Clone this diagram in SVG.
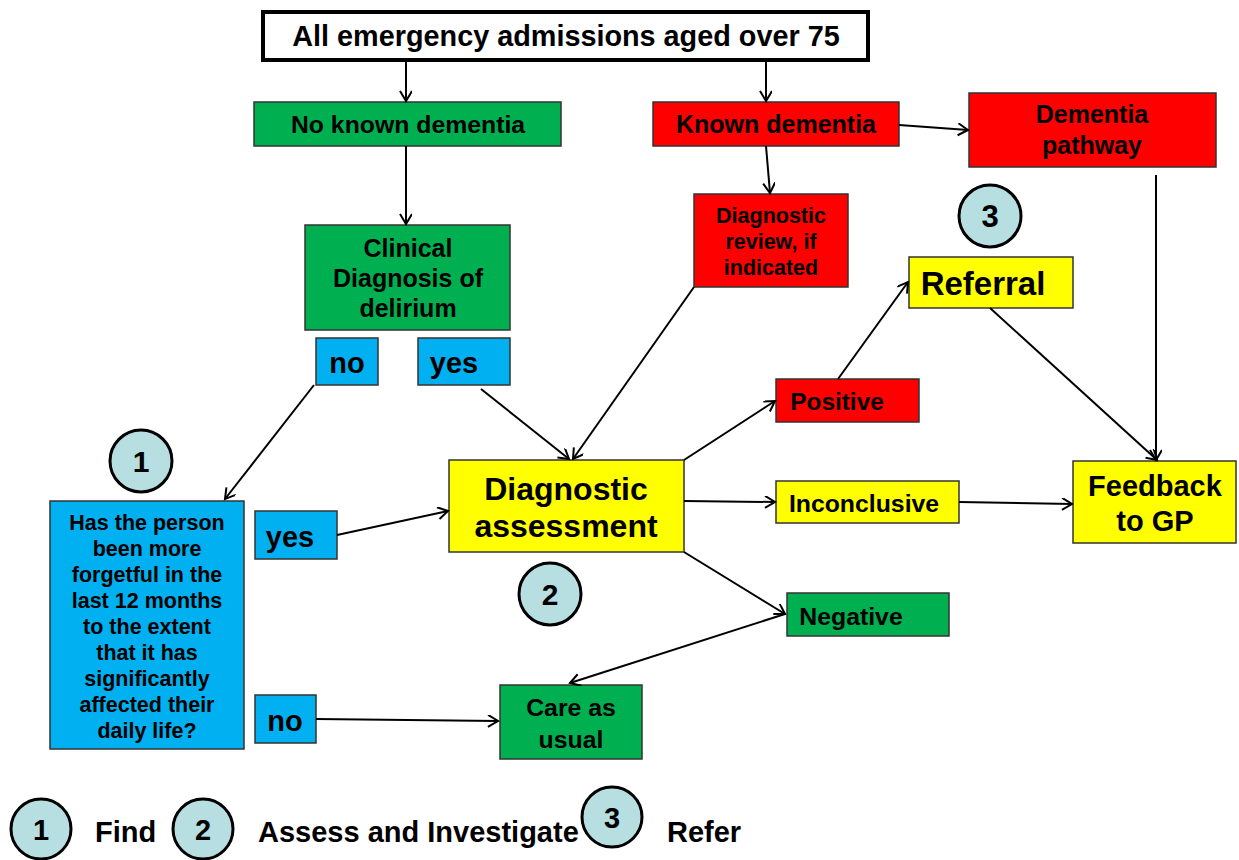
<svg xmlns="http://www.w3.org/2000/svg" width="1239" height="860" viewBox="0 0 1239 860">
<style>
text{font-family:"Liberation Sans",Arial,sans-serif;font-weight:bold;fill:#000;text-anchor:middle}
text.l{text-anchor:start}
.box{stroke:#333;stroke-width:1.5}
.g{fill:#00B050}.r{fill:#FF0000}.y{fill:#FFFF00}.b{fill:#00B0F0}
.c{fill:#B7DEE0;stroke:#000;stroke-width:3}
.conn line{stroke:#000;stroke-width:2;marker-end:url(#ah)}
</style>
<defs>
<marker id="ah" markerWidth="14" markerHeight="14" refX="11" refY="6" orient="auto" markerUnits="userSpaceOnUse">
<path d="M1,0 L11,6 L1,12" fill="none" stroke="#000" stroke-width="2"/>
</marker>
</defs>
<g id="top"><rect x="263" y="12" width="605" height="48" fill="#fff" stroke="#000" stroke-width="4"/><text x="566" y="46" font-size="28.8">All emergency admissions aged over 75</text></g>
<g id="noknown"><rect class="box g" x="254" y="102" width="307" height="44"/><text x="408" y="133" font-size="24.8">No known dementia</text></g>
<g id="known"><rect class="box r" x="653" y="102" width="246" height="44"/><text x="776" y="133" font-size="25">Known dementia</text></g>
<g id="pathway"><rect class="box r" x="969" y="93" width="247" height="74"/><text x="1092" y="123" font-size="25">Dementia</text><text x="1092" y="154" font-size="25">pathway</text></g>
<g id="review"><rect class="box r" x="694" y="194" width="154" height="93"/><text x="771" y="223" font-size="21.5">Diagnostic</text><text x="771" y="249" font-size="21.5">review, if</text><text x="771" y="275" font-size="21.5">indicated</text></g>
<g id="clinical"><rect class="box g" x="305" y="225" width="205" height="105"/><text x="408" y="257" font-size="25">Clinical</text><text x="408" y="287" font-size="25">Diagnosis of</text><text x="408" y="317" font-size="25">delirium</text></g>
<g id="no1"><rect class="box b" x="316" y="338" width="62" height="47"/><text x="347" y="373" font-size="29">no</text></g>
<g id="yes1"><rect class="box b" x="418" y="338" width="92" height="47"/><text x="454" y="373" font-size="29">yes</text></g>
<g id="step1"><circle class="c" cx="141" cy="461" r="31"/><text x="141" y="472" font-size="30">1</text></g>
<g id="question"><rect class="box b" x="50" y="501" width="194" height="248"/>
<text font-size="21.5"><tspan x="147" y="530">Has the person</tspan><tspan x="147" y="556">been more</tspan><tspan x="147" y="582">forgetful in the</tspan><tspan x="147" y="608">last 12 months</tspan><tspan x="147" y="634">to the extent</tspan><tspan x="147" y="660">that it has</tspan><tspan x="147" y="686">significantly</tspan><tspan x="147" y="712">affected their</tspan><tspan x="147" y="738">daily life?</tspan></text></g>
<g id="yes2"><rect class="box b" x="255" y="511" width="82" height="48"/><text x="290" y="547" font-size="29">yes</text></g>
<g id="no2"><rect class="box b" x="255" y="695" width="61" height="48"/><text x="285" y="731" font-size="29">no</text></g>
<g id="assess"><rect class="box y" x="449" y="460" width="235" height="92"/><text x="566" y="500" font-size="32">Diagnostic</text><text x="566" y="537" font-size="32">assessment</text></g>
<g id="step2"><circle class="c" cx="550" cy="594" r="31"/><text x="550" y="605" font-size="30">2</text></g>
<g id="positive"><rect class="box r" x="776" y="379" width="143" height="43"/><text x="837" y="410" font-size="24.4">Positive</text></g>
<g id="referral"><rect class="box y" x="909" y="257" width="164" height="51"/><text x="983" y="295" font-size="33">Referral</text></g>
<g id="step3"><circle class="c" cx="990" cy="216" r="31"/><text x="990" y="227" font-size="31" font-weight="normal">3</text></g>
<g id="feedback"><rect class="box y" x="1073" y="461" width="163" height="82"/><text x="1155" y="496" font-size="29">Feedback</text><text x="1155" y="531" font-size="29">to GP</text></g>
<g id="inconclusive"><rect class="box y" x="776" y="481" width="183" height="42"/><text x="864" y="512" font-size="24.8">Inconclusive</text></g>
<g id="negative"><rect class="box g" x="787" y="593" width="162" height="43"/><text x="851" y="625" font-size="24.8">Negative</text></g>
<g id="care"><rect class="box g" x="500" y="685" width="142" height="74"/><text x="571" y="716" font-size="24.8">Care as</text><text x="571" y="748" font-size="24.8">usual</text></g>
<g class="conn" id="connectors">
<line x1="406" y1="62" x2="406" y2="101"/>
<line x1="766" y1="62" x2="766" y2="101"/>
<line x1="899" y1="125" x2="968" y2="130"/>
<line x1="766" y1="146" x2="770" y2="193"/>
<line x1="406" y1="146" x2="406" y2="224"/>
<line x1="314" y1="385" x2="225" y2="499"/>
<line x1="481" y1="389" x2="569" y2="459"/>
<line x1="694" y1="287" x2="573" y2="459"/>
<line x1="337" y1="535" x2="448" y2="511"/>
<line x1="316" y1="719" x2="498" y2="721"/>
<line x1="684" y1="460" x2="775" y2="401"/>
<line x1="838" y1="379" x2="908" y2="282"/>
<line x1="990" y1="308" x2="1157" y2="460"/>
<line x1="1156" y1="175" x2="1156" y2="460"/>
<line x1="684" y1="501" x2="775" y2="502"/>
<line x1="959" y1="502" x2="1072" y2="504"/>
<line x1="684" y1="552" x2="785" y2="614"/>
<line x1="785" y1="614" x2="570" y2="683"/>
</g>
<g id="legend">
<ellipse class="c" cx="41" cy="829" rx="30" ry="30"/><text x="41" y="840" font-size="29">1</text>
<text class="l" x="95" y="842" font-size="29">Find</text>
<ellipse class="c" cx="203" cy="829" rx="30" ry="30"/><text x="203" y="840" font-size="29">2</text>
<text class="l" x="258" y="842" font-size="29">Assess and Investigate</text>
<ellipse class="c" cx="612" cy="817" rx="30" ry="30"/><text x="612" y="828" font-size="29">3</text>
<text class="l" x="667" y="842" font-size="29">Refer</text>
</g>
</svg>
